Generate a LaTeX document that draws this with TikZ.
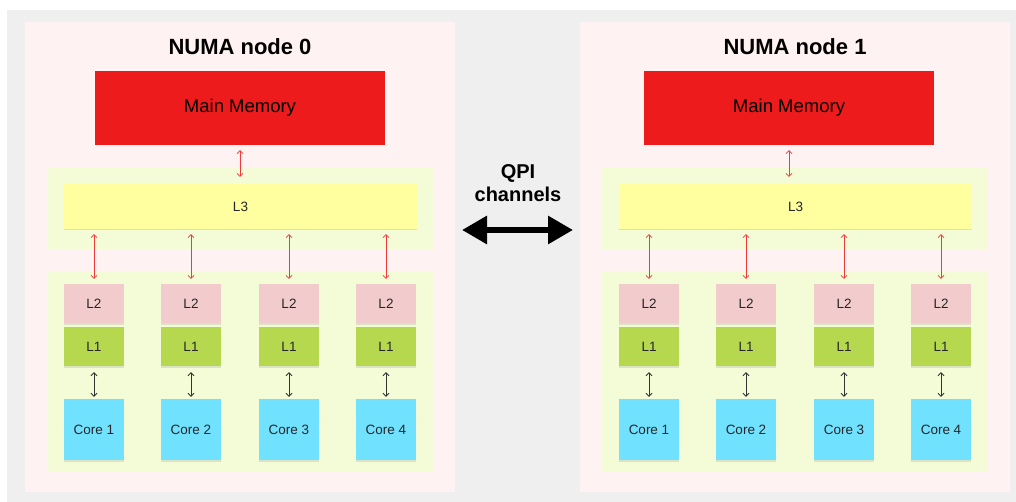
\documentclass[tikz,border=0pt]{standalone}
\usepackage{fontspec}
\setmainfont{Liberation Sans}
\usetikzlibrary{arrows.meta,shadows}
\definecolor{bggray}{RGB}{239,239,239}
\definecolor{panelpink}{RGB}{255,242,242}
\definecolor{cachegreen}{RGB}{243,252,215}
\definecolor{memred}{RGB}{237,27,27}
\definecolor{linkred}{RGB}{238,58,58}
\definecolor{lthree}{RGB}{255,255,160}
\definecolor{ltwo}{RGB}{242,204,204}
\definecolor{lone}{RGB}{181,216,78}
\definecolor{corecyan}{RGB}{112,226,255}

\begin{document}
\begin{tikzpicture}[x=1pt,y=-1pt,
  cachebox/.style={fill=#1, inner sep=0pt, text=black!85,
    font=\fontsize{13.5}{16}\selectfont,
    drop shadow={shadow xshift=0.4pt, shadow yshift=-1.5pt, opacity=0.2}},
  redlink/.style={draw=linkred, line width=0.7pt,
    {Straight Barb[length=3pt,width=6pt]}-{Straight Barb[length=3pt,width=6pt]}},
  blacklink/.style={draw=black!80, line width=0.8pt,
    {Straight Barb[length=3pt,width=6pt]}-{Straight Barb[length=3pt,width=6pt]}}]
  \useasboundingbox (0,0) rectangle (1016,502);
  \fill[bggray] (7,10) rectangle (1016,502);
  % two NUMA nodes, memory box sits a bit off on the right one
  \foreach \n/\dx/\mx in {0/0/0,1/555/549} {
    \fill[panelpink] (25+\dx,22) rectangle (455+\dx,492);
    \node[font=\fontsize{22}{26}\selectfont\bfseries] (title\n) at (240+\dx,47) {NUMA node \n};
    \node[fill=memred, minimum width=290, minimum height=74, inner sep=0pt,
      font=\fontsize{18.5}{22}\selectfont] (mem\n) at (240+\mx,108) {Main Memory};
    \fill[cachegreen] (47+\dx,167) rectangle (433+\dx,249);
    \node[cachebox=lthree, minimum width=353, minimum height=45] (lthr\n) at (240.5+\dx,206.5) {L3};
    \draw[redlink, shorten <=5pt, shorten >=7pt] (mem\n.south) -- (mem\n.south |- lthr\n.north);
    \fill[cachegreen] (47+\dx,272) rectangle (433+\dx,472);
    \foreach \c/\cx in {1/94,2/191,3/289,4/386} {
      \node[cachebox=ltwo, minimum width=60, minimum height=39] (ltw\n\c) at (\cx+\dx,303.5) {L2};
      \node[cachebox=lone, minimum width=60, minimum height=39] (lon\n\c) at (\cx+\dx,346.5) {L1};
      \node[cachebox=corecyan, minimum width=60, minimum height=61] (core\n\c) at (\cx+\dx,429.5) {Core \c};
      \draw[redlink, shorten <=5pt, shorten >=5pt] (lthr\n.south -| ltw\n\c.north) -- (ltw\n\c.north);
      \draw[blacklink, shorten <=6pt, shorten >=2pt] (lon\n\c.south) -- (core\n\c.north);
    }
  }
  % interconnect
  \node[font=\fontsize{20}{23}\selectfont\bfseries, align=center] (qpi) at (518,183) {QPI\\channels};
  \coordinate (qpiw) at (462,230);
  \coordinate (qpie) at (573,230);
  \draw[line width=6pt, {Triangle[length=25pt,width=27pt]}-{Triangle[length=25pt,width=27pt]}] (qpiw) -- (qpie);
\end{tikzpicture}
\end{document}
